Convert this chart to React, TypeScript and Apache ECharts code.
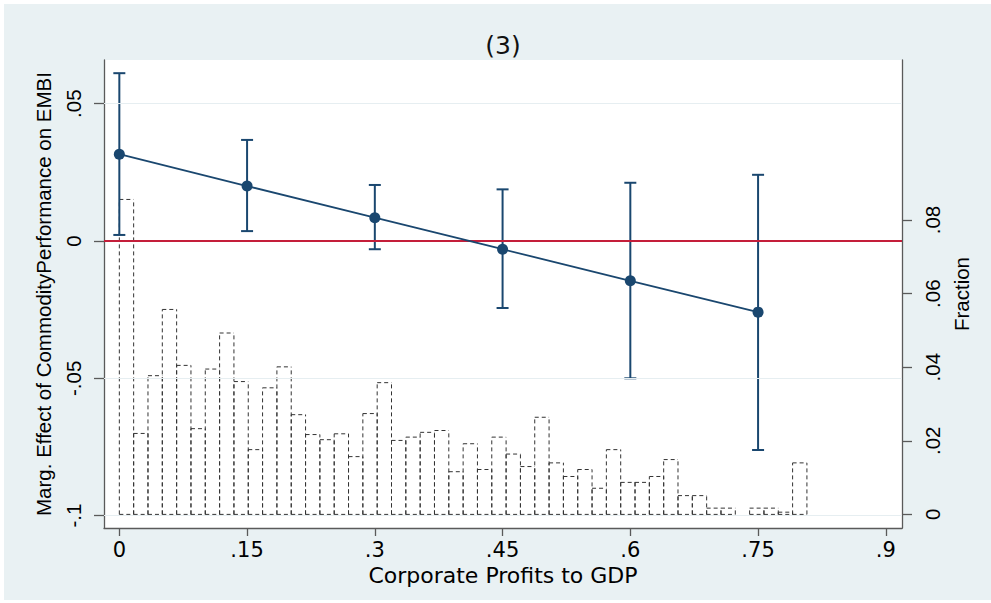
import React, { useEffect, useRef } from "react";
import * as echarts from "echarts";

// Marginal effect of commodity performance on EMBI, evaluated along corporate profits / GDP
const evalPoints = [0, 0.15, 0.3, 0.45, 0.6, 0.75];
const marginalEffect = [0.0316, 0.02, 0.0085, -0.003, -0.0145, -0.0259];
const ciLower = [0.0022, 0.0036, -0.003, -0.0244, -0.05, -0.0761];
const ciUpper = [0.0611, 0.0368, 0.0204, 0.0188, 0.0212, 0.0241];

// Distribution of corporate profits / GDP (fraction of observations per bin)
const histStart = 0;
const histBinWidth = 0.01682;
const histFraction = [
  0.0856, 0.022, 0.0377, 0.0557, 0.0405, 0.0233, 0.0395, 0.0493, 0.0361, 0.0176,
  0.0344, 0.0401, 0.0271, 0.0217, 0.0203, 0.0219, 0.0157, 0.0274, 0.0358, 0.0201,
  0.021, 0.0223, 0.0228, 0.0116, 0.0192, 0.0122, 0.021, 0.0164, 0.013, 0.0264,
  0.014, 0.0103, 0.0122, 0.0071, 0.0176, 0.0087, 0.0087, 0.0103, 0.0149, 0.0051,
  0.0051, 0.0017, 0.0017, 0, 0.0017, 0.0017, 0.0006, 0.014,
];

// Axis ticks
const xTicks = [0, 0.15, 0.3, 0.45, 0.6, 0.75, 0.9];
const effectTicks = [-0.1, -0.05, 0, 0.05];
const fractionTicks = [0, 0.02, 0.04, 0.06, 0.08];
const effectGridLines = [-0.1, -0.05, 0.05];
const referenceLine = 0;

const NAVY = "#1a476f";
const RED = "#c41e3a";
const AXIS = "#5a5a5a";
const H_FONT = "DejaVu Sans";
const V_FONT = "Liberation Sans";

// Stata-style numbers: drop the leading zero (".15", "-.05")
const stataNum = (v: number) => {
  const n = parseFloat(Number(v).toPrecision(6));
  if (n === 0) return "0";
  return String(n).replace("0.", ".");
};

export default function App() {
  const ref = useRef<HTMLDivElement>(null);

  useEffect(() => {
    if (!ref.current) return;
    const chart = echarts.init(ref.current, undefined, { renderer: "svg" });

    const histData = histFraction.map((f, i) => [
      histStart + i * histBinWidth,
      histStart + (i + 1) * histBinWidth,
      f,
    ]);
    const ciData = evalPoints.map((x, i) => [x, ciLower[i], ciUpper[i]]);
    const lineData = evalPoints.map((x, i) => [x, marginalEffect[i]]);

    chart.setOption({
      animation: false,
      backgroundColor: "#ffffff",
      graphic: [
        {
          type: "rect",
          z: -100,
          silent: true,
          shape: { x: 4, y: 4, width: 987, height: 596 },
          style: { fill: "#e9f1f3" },
        },
        {
          type: "text",
          x: 503,
          y: 45,
          style: {
            text: "(3)",
            fill: "#111111",
            fontFamily: H_FONT,
            fontSize: 25,
            textAlign: "center",
            textVerticalAlign: "middle",
          },
        },
      ],
      grid: {
        left: 104,
        right: 89,
        top: 60,
        bottom: 75,
        containLabel: false,
        outerBoundsMode: "none",
        show: true,
        backgroundColor: "#ffffff",
        borderWidth: 0,
      },
      xAxis: {
        type: "value",
        min: -0.018,
        max: 0.919,
        position: "bottom",
        name: "Corporate Profits to GDP",
        nameLocation: "middle",
        nameGap: 36,
        nameTextStyle: { color: "#000", fontFamily: H_FONT, fontSize: 22 },
        axisLine: { show: true, onZero: false, lineStyle: { color: AXIS, width: 1.3 } },
        axisTick: { show: true, customValues: xTicks, length: 8, lineStyle: { color: AXIS, width: 1.3 } },
        axisLabel: {
          customValues: xTicks,
          formatter: stataNum,
          color: "#000",
          fontFamily: H_FONT,
          fontSize: 21,
          margin: 11,
        },
        splitLine: { show: false },
      },
      yAxis: [
        {
          type: "value",
          min: -0.1045,
          max: 0.0659,
          position: "left",
          name: "Marg. Effect of CommodityPerformance on EMBI",
          nameLocation: "middle",
          nameRotate: 90,
          nameGap: 50,
          nameTextStyle: { color: "#000", fontFamily: V_FONT, fontSize: 20.5 },
          axisLine: { show: true, onZero: false, lineStyle: { color: AXIS, width: 1.3 } },
          axisTick: { show: true, customValues: effectTicks, length: 10, lineStyle: { color: AXIS, width: 1.3 } },
          axisLabel: {
            customValues: effectTicks,
            formatter: stataNum,
            rotate: 90,
            color: "#000",
            fontFamily: V_FONT,
            fontSize: 20.5,
            margin: 20,
          },
          splitLine: { show: false },
        },
        {
          type: "value",
          min: -0.0037,
          max: 0.1235,
          position: "right",
          name: "Fraction",
          nameLocation: "middle",
          nameRotate: 90,
          nameGap: 42,
          nameTextStyle: { color: "#000", fontFamily: V_FONT, fontSize: 20.5 },
          axisLine: { show: true, onZero: false, lineStyle: { color: AXIS, width: 1.3 } },
          axisTick: { show: true, customValues: fractionTicks, length: 10, lineStyle: { color: AXIS, width: 1.3 } },
          axisLabel: {
            customValues: fractionTicks,
            formatter: stataNum,
            rotate: 90,
            color: "#000",
            fontFamily: V_FONT,
            fontSize: 20.5,
            margin: 20,
          },
          splitLine: { show: false },
        },
      ],
      series: [
        {
          // horizontal grid lines at the effect-axis ticks
          type: "line",
          xAxisIndex: 0,
          yAxisIndex: 0,
          data: [],
          z: 1,
          silent: true,
          markLine: {
            silent: true,
            symbol: "none",
            label: { show: false },
            lineStyle: { color: "#e6eef1", width: 1.2, type: "solid" },
            data: effectGridLines.map((v) => ({ yAxis: v })),
          },
        },
        {
          type: "custom",
          name: "Fraction",
          xAxisIndex: 0,
          yAxisIndex: 1,
          z: 2,
          silent: true,
          data: histData,
          encode: { x: [0, 1], y: 2 },
          renderItem: (_params: any, api: any) => {
            const f = api.value(2);
            if (!f) return null;
            const tl = api.coord([api.value(0), f]);
            const br = api.coord([api.value(1), 0]);
            const style = { stroke: "#333333", lineWidth: 1, lineDash: [4, 3] };
            // vertical edges start at the baseline so shared edges of
            // neighbouring bars keep the same dash phase
            return {
              type: "group",
              children: [
                { type: "line", shape: { x1: tl[0], y1: br[1], x2: tl[0], y2: tl[1] }, style },
                { type: "line", shape: { x1: br[0], y1: br[1], x2: br[0], y2: tl[1] }, style },
                { type: "line", shape: { x1: tl[0], y1: tl[1], x2: br[0], y2: tl[1] }, style },
                { type: "line", shape: { x1: tl[0], y1: br[1], x2: br[0], y2: br[1] }, style },
              ],
            };
          },
        },
        {
          type: "line",
          xAxisIndex: 0,
          yAxisIndex: 0,
          data: [],
          z: 3,
          silent: true,
          markLine: {
            silent: true,
            symbol: "none",
            label: { show: false },
            lineStyle: { color: RED, width: 1.8, type: "solid" },
            data: [{ yAxis: referenceLine }],
          },
        },
        {
          type: "custom",
          name: "95% CI",
          xAxisIndex: 0,
          yAxisIndex: 0,
          z: 4,
          silent: true,
          data: ciData,
          encode: { x: 0, y: [1, 2] },
          renderItem: (_params: any, api: any) => {
            const x = api.value(0);
            const lo = api.coord([x, api.value(1)]);
            const hi = api.coord([x, api.value(2)]);
            const hw = 6;
            const style = { stroke: NAVY, lineWidth: 2 };
            return {
              type: "group",
              children: [
                { type: "line", shape: { x1: lo[0], y1: lo[1], x2: hi[0], y2: hi[1] }, style },
                { type: "line", shape: { x1: lo[0] - hw, y1: lo[1], x2: lo[0] + hw, y2: lo[1] }, style },
                { type: "line", shape: { x1: hi[0] - hw, y1: hi[1], x2: hi[0] + hw, y2: hi[1] }, style },
              ],
            };
          },
        },
        {
          type: "line",
          name: "Marginal effect",
          xAxisIndex: 0,
          yAxisIndex: 0,
          z: 5,
          data: lineData,
          symbol: "circle",
          symbolSize: 11,
          showAllSymbol: true,
          itemStyle: { color: NAVY },
          lineStyle: { color: NAVY, width: 1.8 },
          silent: true,
        },
      ],
    });

    return () => chart.dispose();
  }, []);

  return (
    <div
      ref={ref}
      style={{ position: "absolute", left: 0, top: 0, width: 991, height: 603 }}
    />
  );
}
